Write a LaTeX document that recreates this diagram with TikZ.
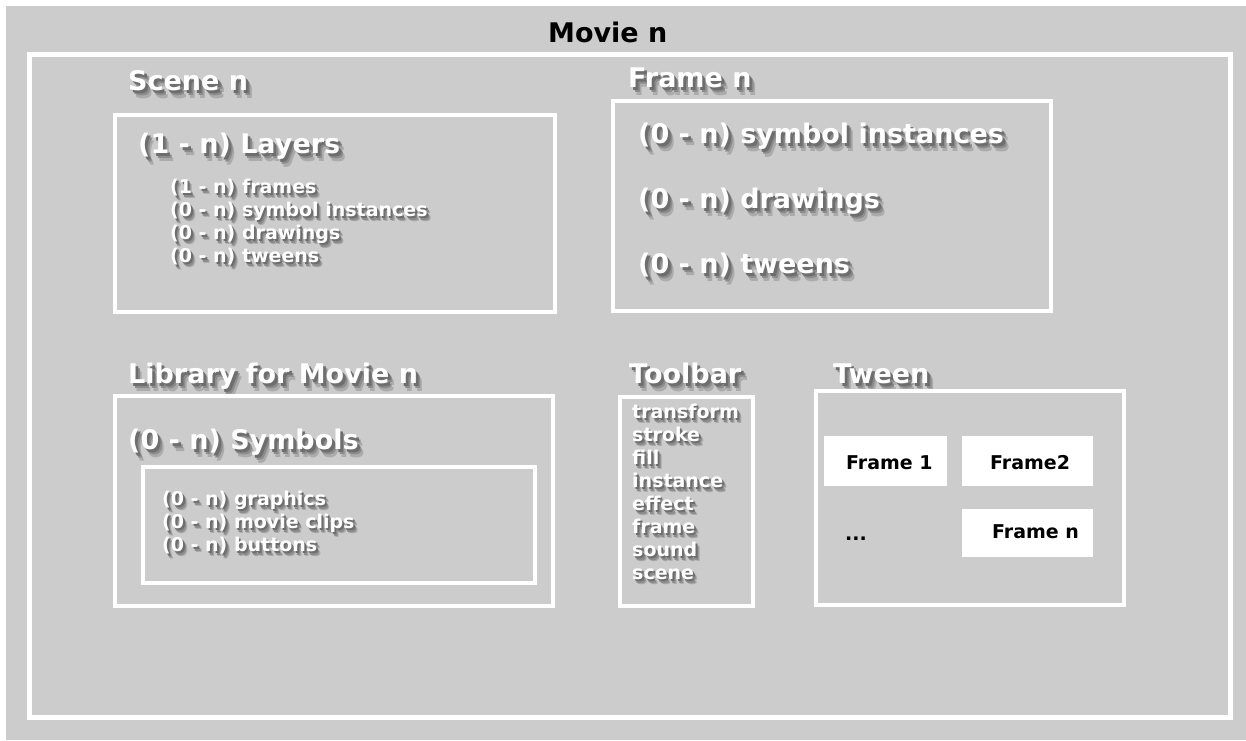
\documentclass[tikz,border=0pt]{standalone}
\usepackage{fontspec}
\setmainfont{DejaVu Sans}
\definecolor{bg}{HTML}{CCCCCC}
\definecolor{shA}{HTML}{6E6E6E}
\definecolor{shB}{HTML}{8C8C8C}
\definecolor{shC}{HTML}{ABABAB}
\newcommand\sh[1]{\makebox[0pt][l]{\kern0.22em\raisebox{-0.3em}{\color{shC}#1}}\makebox[0pt][l]{\kern0.16em\raisebox{-0.22em}{\color{shB}#1}}\makebox[0pt][l]{\kern0.1em\raisebox{-0.14em}{\color{shA}#1}}#1}
\begin{document}
\begin{tikzpicture}[x=1pt,y=-1pt,
  wbox/.style={draw=white, line width=3.5pt},
  big/.style={font=\fontsize{27}{27}\selectfont\bfseries, text=white, anchor=base west, inner sep=0pt},
  small/.style={font=\fontsize{19}{19}\selectfont\bfseries, text=white, anchor=base west, inner sep=0pt},
  blk/.style={font=\fontsize{19}{19}\selectfont\bfseries, text=black, anchor=base west, inner sep=0pt},
  fbox/.style={fill=white, draw=none}]
\useasboundingbox[fill=white] (0,0) rectangle (1246,740);
\fill[bg] (6,6) rectangle (1246,740);
% outer frame
\draw[draw=white, line width=5pt] (29.5,54.5) rectangle (1230.5,717.5);
\node[font=\fontsize{27}{27}\selectfont\bfseries, anchor=base west, inner sep=0pt] (movie) at (548,42) {Movie n};
% Scene
\node[big] (scene) at (128,90) {\sh{Scene n}};
\draw[wbox] (115,115) rectangle (555,312);
\node[big] (layers) at (138,153) {\sh{(1 - n) Layers}};
\node[small] (l1) at (170,193) {\sh{(1 - n) frames}};
\node[small] (l2) at (170,216) {\sh{(0 - n) symbol instances}};
\node[small] (l3) at (170,239) {\sh{(0 - n) drawings}};
\node[small] (l4) at (170,262) {\sh{(0 - n) tweens}};
% Frame
\node[big] (frame) at (628,87) {\sh{Frame n}};
\draw[wbox] (613,101) rectangle (1051,311);
\node[big] (f1) at (638,143) {\sh{(0 - n) symbol instances}};
\node[big] (f2) at (638,208) {\sh{(0 - n) drawings}};
\node[big] (f3) at (638,273) {\sh{(0 - n) tweens}};
% Library
\node[big] (lib) at (128,383) {\sh{Library for Movie n}};
\draw[wbox] (115,396) rectangle (553,606);
\node[big] (sym) at (128,449) {\sh{(0 - n) Symbols}};
\draw[wbox] (143,467) rectangle (535,583);
\node[small] (g1) at (162,505) {\sh{(0 - n) graphics}};
\node[small] (g2) at (162,528) {\sh{(0 - n) movie clips}};
\node[small] (g3) at (162,551) {\sh{(0 - n) buttons}};
% Toolbar
\node[big] (tool) at (629,383) {\sh{Toolbar}};
\draw[wbox] (620,397) rectangle (753,606);
\node[small] (t1) at (632,418) {\sh{transform}};
\node[small] (t2) at (632,441) {\sh{stroke}};
\node[small] (t3) at (632,464) {\sh{fill}};
\node[small] (t4) at (632,487) {\sh{instance}};
\node[small] (t5) at (632,510) {\sh{effect}};
\node[small] (t6) at (632,533) {\sh{frame}};
\node[small] (t7) at (632,556) {\sh{sound}};
\node[small] (t8) at (632,579) {\sh{scene}};
% Tween
\node[big] (tween) at (833,383) {\sh{Tween}};
\draw[wbox] (816,391) rectangle (1124,605);
\fill[white] (824,436) rectangle (947,486);
\fill[white] (962,436) rectangle (1093,486);
\fill[white] (962,509) rectangle (1093,557);
\node[blk] (fr1) at (846,469) {Frame 1};
\node[blk] (fr2) at (990,469) {Frame2};
\node[blk] (frn) at (992,538) {Frame n};
\node[blk] (dots) at (845,540) {...};
\end{tikzpicture}
\end{document}
